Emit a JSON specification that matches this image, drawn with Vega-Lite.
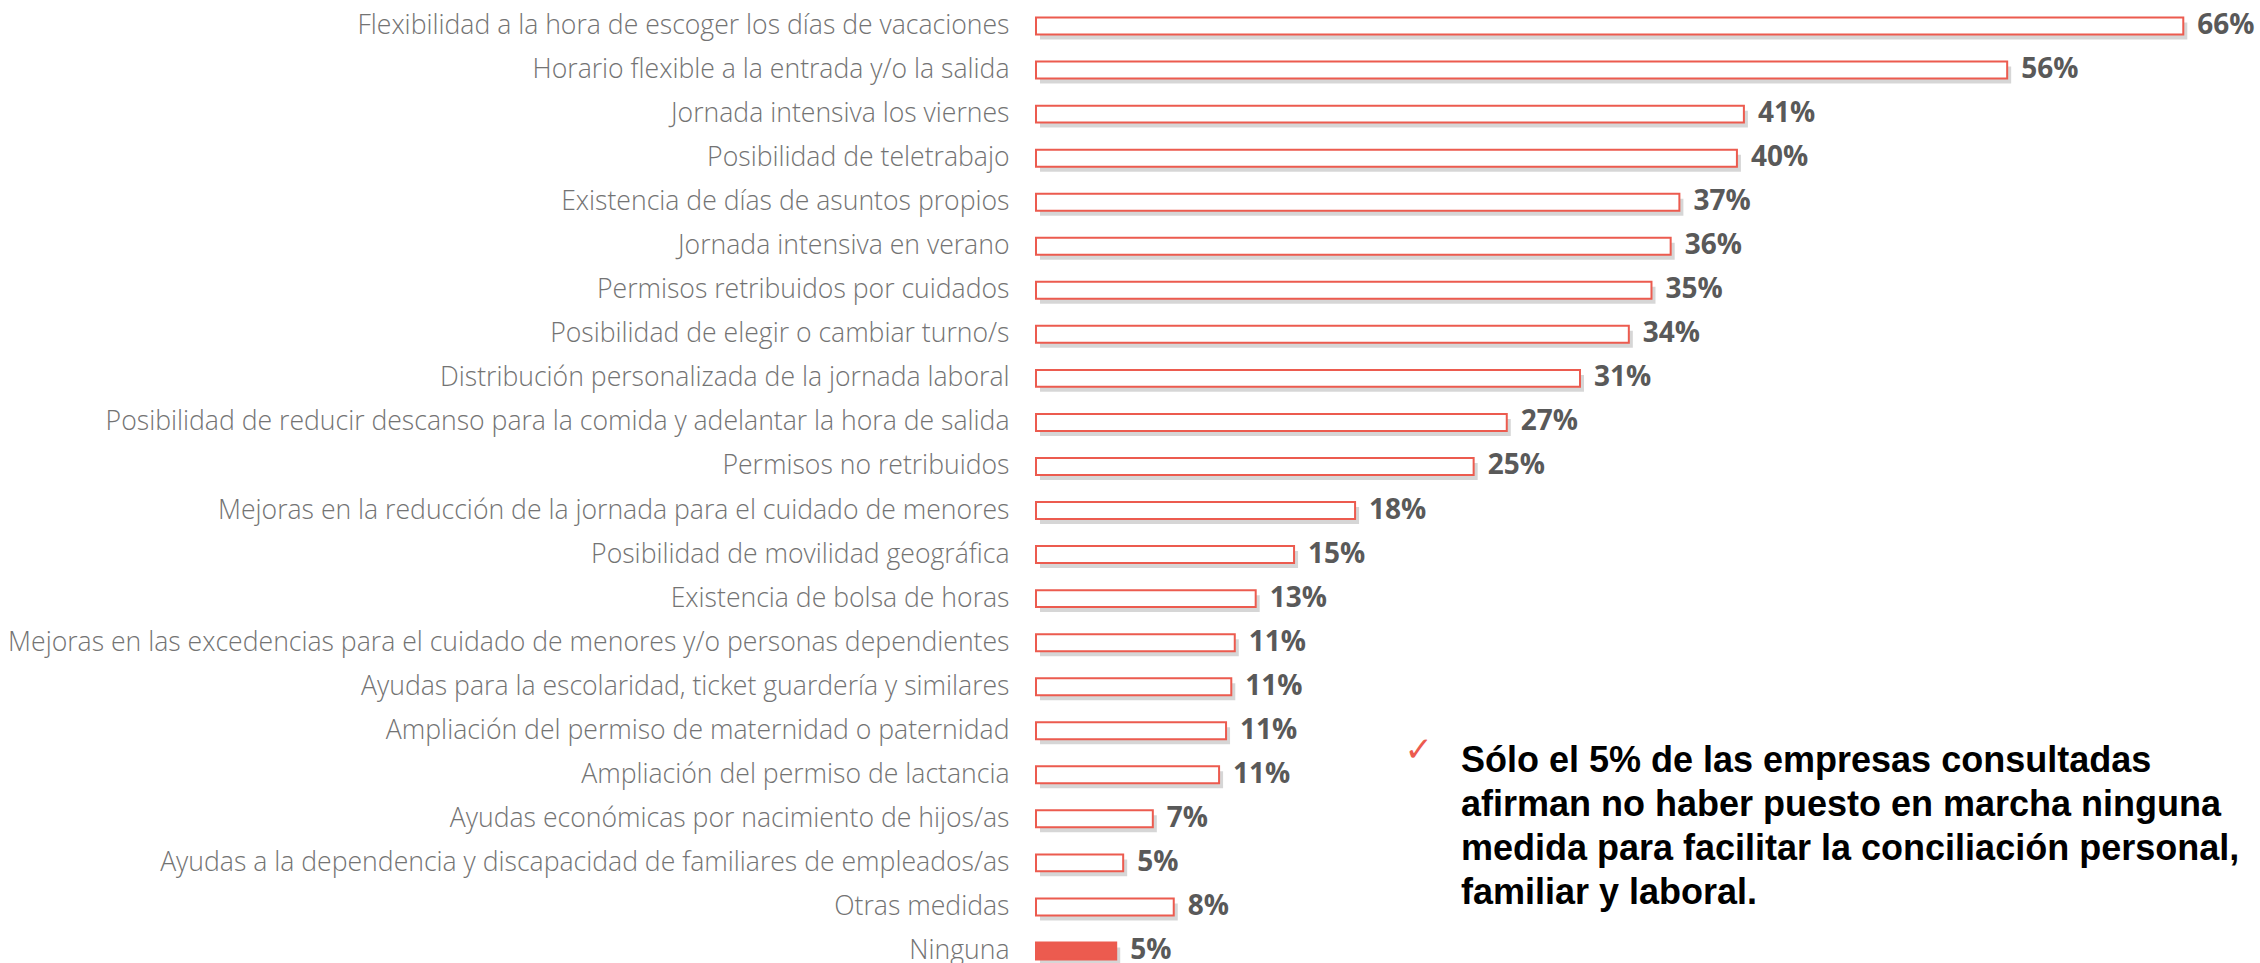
{
  "$schema": "https://vega.github.io/schema/vega-lite/v6.json",
  "width": 1224,
  "height": 969,
  "autosize": {"type": "none"},
  "padding": {"left": 1036, "top": 4, "right": 0, "bottom": 0},
  "background": "white",
  "config": {"view": {"stroke": null}},
  "datasets": {
    "medidas": [
      {"medida": "Flexibilidad a la hora de escoger los días de vacaciones", "valor": 65.8, "etiqueta": "66%", "tipo": "hueco"},
      {"medida": "Horario flexible a la entrada y/o la salida", "valor": 55.7, "etiqueta": "56%", "tipo": "hueco"},
      {"medida": "Jornada intensiva los viernes", "valor": 40.6, "etiqueta": "41%", "tipo": "hueco"},
      {"medida": "Posibilidad de teletrabajo", "valor": 40.2, "etiqueta": "40%", "tipo": "hueco"},
      {"medida": "Existencia de días de asuntos propios", "valor": 36.9, "etiqueta": "37%", "tipo": "hueco"},
      {"medida": "Jornada intensiva en verano", "valor": 36.4, "etiqueta": "36%", "tipo": "hueco"},
      {"medida": "Permisos retribuidos por cuidados", "valor": 35.3, "etiqueta": "35%", "tipo": "hueco"},
      {"medida": "Posibilidad de elegir o cambiar turno/s", "valor": 34.0, "etiqueta": "34%", "tipo": "hueco"},
      {"medida": "Distribución personalizada de la jornada laboral", "valor": 31.2, "etiqueta": "31%", "tipo": "hueco"},
      {"medida": "Posibilidad de reducir descanso para la comida y adelantar la hora de salida", "valor": 27.0, "etiqueta": "27%", "tipo": "hueco"},
      {"medida": "Permisos no retribuidos", "valor": 25.1, "etiqueta": "25%", "tipo": "hueco"},
      {"medida": "Mejoras en la reducción de la jornada para el cuidado de menores", "valor": 18.3, "etiqueta": "18%", "tipo": "hueco"},
      {"medida": "Posibilidad de movilidad geográfica", "valor": 14.8, "etiqueta": "15%", "tipo": "hueco"},
      {"medida": "Existencia de bolsa de horas", "valor": 12.6, "etiqueta": "13%", "tipo": "hueco"},
      {"medida": "Mejoras en las excedencias para el cuidado de menores y/o personas dependientes", "valor": 11.4, "etiqueta": "11%", "tipo": "hueco"},
      {"medida": "Ayudas para la escolaridad, ticket guardería y similares", "valor": 11.2, "etiqueta": "11%", "tipo": "hueco"},
      {"medida": "Ampliación del permiso de maternidad o paternidad", "valor": 10.9, "etiqueta": "11%", "tipo": "hueco"},
      {"medida": "Ampliación del permiso de lactancia", "valor": 10.5, "etiqueta": "11%", "tipo": "hueco"},
      {"medida": "Ayudas económicas por nacimiento de hijos/as", "valor": 6.7, "etiqueta": "7%", "tipo": "hueco"},
      {"medida": "Ayudas a la dependencia y discapacidad de familiares de empleados/as", "valor": 5.0, "etiqueta": "5%", "tipo": "hueco"},
      {"medida": "Otras medidas", "valor": 7.9, "etiqueta": "8%", "tipo": "hueco"},
      {"medida": "Ninguna", "valor": 4.6, "etiqueta": "5%", "tipo": "lleno"}
    ],
    "nota": [
      {"medida": "Ampliación del permiso de lactancia", "x": 24.37, "texto": "Sólo el 5% de las empresas consultadas"},
      {"medida": "Ayudas económicas por nacimiento de hijos/as", "x": 24.37, "texto": "afirman no haber puesto en marcha ninguna"},
      {"medida": "Ayudas a la dependencia y discapacidad de familiares de empleados/as", "x": 24.37, "texto": "medida para facilitar la conciliación personal,"},
      {"medida": "Otras medidas", "x": 24.37, "texto": "familiar y laboral."}
    ],
    "marca": [
      {"medida": "Ampliación del permiso de lactancia", "x": 21.95, "texto": "✓"}
    ]
  },
  "layer": [
    {
      "data": {"name": "medidas"},
      "mark": {"type": "bar", "color": "#8a8a8a", "opacity": 0.35, "xOffset": 4, "yOffset": 5},
      "encoding": {
        "y": {"field": "medida", "type": "nominal", "sort": null,
              "scale": {"paddingInner": 0.615, "paddingOuter": 0.3075},
              "axis": {"title": null, "domain": false, "ticks": false, "labelPadding": 27,
                       "labelFont": "Open Sans", "labelFontSize": 26.6, "labelFontWeight": 300, "labelColor": "#737373",
                       "labelLimit": 1100}},
        "x": {"field": "valor", "type": "quantitative", "scale": {"domain": [0, 70.2], "nice": false}, "axis": null}
      }
    },
    {
      "data": {"name": "medidas"},
      "mark": {"type": "bar", "stroke": "#EC5B4F", "strokeWidth": 2},
      "encoding": {
        "y": {"field": "medida", "type": "nominal", "sort": null},
        "x": {"field": "valor", "type": "quantitative"},
        "fill": {"field": "tipo", "type": "nominal", "scale": {"domain": ["hueco", "lleno"], "range": ["#ffffff", "#EC5B4F"]}, "legend": null}
      }
    },
    {
      "data": {"name": "medidas"},
      "mark": {"type": "text", "align": "left", "baseline": "middle", "dx": 14, "font": "Open Sans", "fontWeight": "bold", "fontSize": 28, "color": "#595959"},
      "encoding": {
        "y": {"field": "medida", "type": "nominal", "sort": null},
        "x": {"field": "valor", "type": "quantitative"},
        "text": {"field": "etiqueta"}
      }
    },
    {
      "data": {"name": "nota"},
      "mark": {"type": "text", "align": "left", "baseline": "middle", "yOffset": -14, "font": "Liberation Sans", "fontWeight": "bold", "fontSize": 36, "color": "#000000"},
      "encoding": {
        "y": {"field": "medida", "type": "nominal", "sort": null},
        "x": {"field": "x", "type": "quantitative"},
        "text": {"field": "texto"}
      }
    },
    {
      "data": {"name": "marca"},
      "mark": {"type": "text", "align": "center", "baseline": "middle", "yOffset": -24, "font": "DejaVu Sans", "fontSize": 34, "color": "#EC5B4F"},
      "encoding": {
        "y": {"field": "medida", "type": "nominal", "sort": null},
        "x": {"field": "x", "type": "quantitative"},
        "text": {"field": "texto"}
      }
    }
  ]
}
